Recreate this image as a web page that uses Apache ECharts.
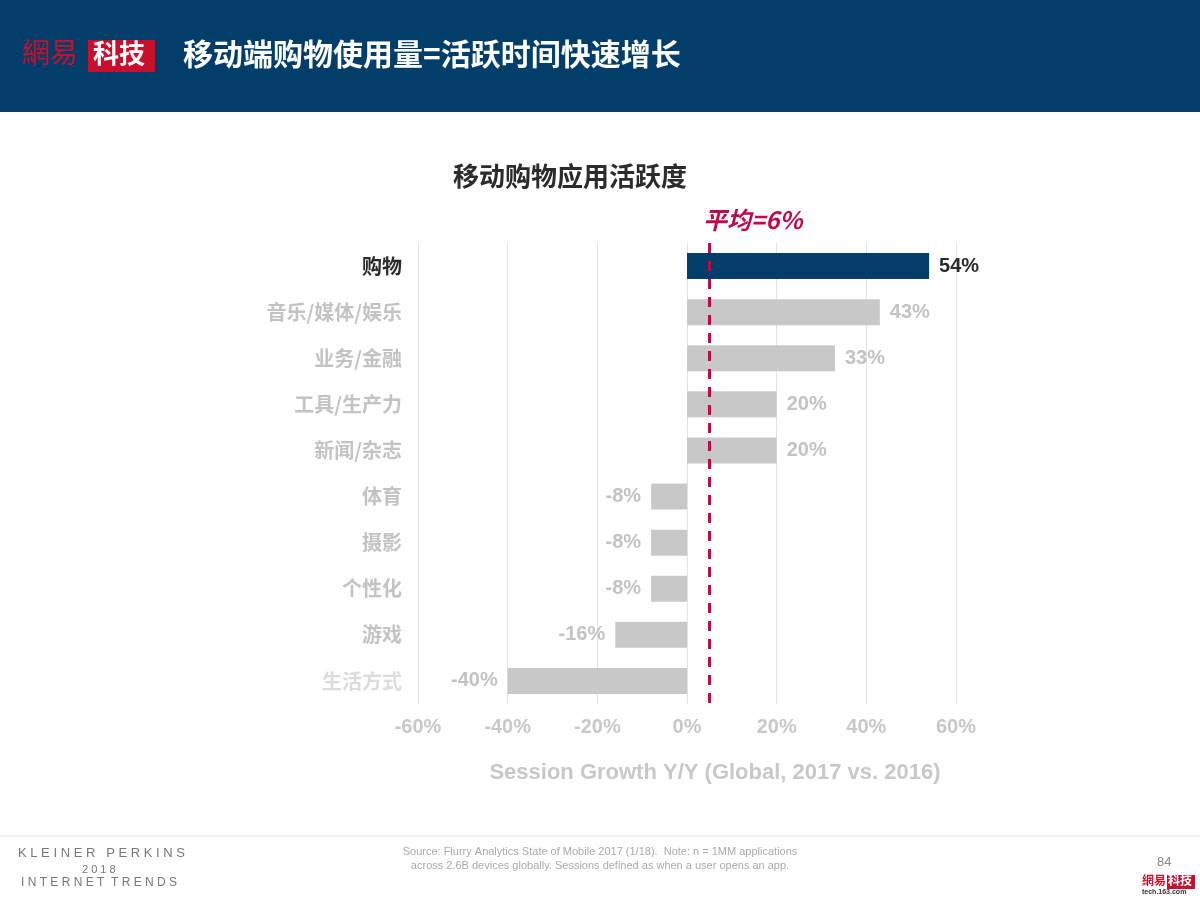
<!DOCTYPE html>
<html><head><meta charset="utf-8">
<script src="https://cdn.jsdelivr.net/npm/echarts@6/dist/echarts.min.js"></script>
<style>html,body{margin:0;padding:0;background:#fff}#c{width:1200px;height:900px}</style>
</head><body><div id="c"></div>
<script>
const categories = ['购物','音乐/媒体/娱乐','业务/金融','工具/生产力','新闻/杂志','体育','摄影','个性化','游戏','生活方式'];
const values = [54, 43, 33, 20, 20, -8, -8, -8, -16, -40];
const averageLine = 5;
const averageLabel = '平均=6%';
const xTicks = [-60, -40, -20, 0, 20, 40, 60];

const FONT = '"Liberation Sans","Noto Sans CJK SC",Arial,sans-serif';
const CJK = '"Noto Sans CJK SC","Liberation Sans",sans-serif';
const navy = '#023e69';
const grey = '#c8c8c8';

const chart = echarts.init(document.getElementById('c'));
chart.setOption({
  animation: false,
  backgroundColor: '#fff',
  graphic: [
    {type:'rect', shape:{x:0,y:0,width:1200,height:112}, style:{fill:'#023e69'}},
    {type:'text', left:22, top:38, style:{text:'網易', font:'28px "Noto Sans CJK TC",serif', fill:'#c8102e'}},
    {type:'rect', shape:{x:88,y:40,width:67,height:32}, style:{fill:'#c8102e'}},
    {type:'text', left:93, top:40, style:{text:'科技', font:'bold 26px "Noto Sans CJK SC",serif', fill:'#fff'}},
    {type:'text', left:183, top:39, style:{text:'移动端购物使用量=活跃时间快速增长', font:'bold 30px '+CJK, fill:'#fff'}},
    {type:'text', left:453, top:163, style:{text:'移动购物应用活跃度', font:'bold 26px '+CJK, fill:'#2b2b2b'}},
    {type:'text', left:703, top:208, style:{text:averageLabel, font:'italic bold 24px '+CJK, fill:'#c0084a'}},
    {type:'line', shape:{x1:0,y1:836,x2:1200,y2:836}, style:{stroke:'#e6e6e6', lineWidth:1}},
    {type:'text', left:18, top:847, style:{text:'K L E I N E R   P E R K I N S', font:'13px '+FONT, fill:'#777'}},
    {type:'text', left:82, top:864, style:{text:'2 0 1 8', font:'11px '+FONT, fill:'#777'}},
    {type:'text', left:21, top:877, style:{text:'I N T E R N E T  T R E N D S', font:'12px '+FONT, fill:'#777'}},
    {type:'text', x:600, y:845, style:{text:'Source: Flurry Analytics State of Mobile 2017 (1/18).  Note: n = 1MM applications\nacross 2.6B devices globally. Sessions defined as when a user opens an app.', font:'11px '+FONT, fill:'#aaa', align:'center', verticalAlign:'top', lineHeight:14}},
    {type:'text', left:1157, top:856, style:{text:'84', font:'13px '+FONT, fill:'#888'}},
    {type:'text', left:1142, top:874, style:{text:'網易', font:'bold 12px "Noto Sans CJK TC",serif', fill:'#c8102e'}},
    {type:'rect', shape:{x:1167,y:875,width:28,height:14}, style:{fill:'#c8102e'}},
    {type:'text', left:1168, top:874, style:{text:'科技', font:'bold 12px "Noto Sans CJK SC",serif', fill:'#fff'}},
    {type:'text', left:1142, top:889, style:{text:'tech.163.com', font:'bold 7px '+FONT, fill:'#333'}}
  ],
  grid: {left:418, right:244, top:243, bottom:196, containLabel:false},
  xAxis: {
    type:'value', min:-60, max:60, interval:20,
    axisLine:{show:false}, axisTick:{show:false},
    splitLine:{show:true, lineStyle:{color:'#e2e2e2', width:1}},
    axisLabel:{margin:13, formatter: v => xTicks.includes(v) ? v+'%' : '', color:grey, fontSize:20, fontWeight:'bold', fontFamily:FONT},
    name:'Session Growth Y/Y (Global, 2017 vs. 2016)', nameLocation:'middle', nameGap:58,
    nameTextStyle:{color:grey, fontSize:22, fontWeight:'bold', fontFamily:FONT, padding:[0,0,0,56]}
  },
  yAxis: {
    type:'category', data:categories, inverse:true,
    axisLine:{show:false}, axisTick:{show:false},
    axisLabel:{margin:16, fontSize:20, fontWeight:'bold', fontFamily:CJK,
      color:(v, i) => v==='购物' ? '#2b2b2b' : (v==='生活方式' ? '#dcdcdc' : '#c3c3c3')}
  },
  series: [{
    type:'bar', barWidth:26,
    data: values.map((v,i)=>({value:v, itemStyle:{color: i===0 ? navy : grey},
      label:{show:true, position: v>=0 ? 'right' : 'left', distance:10,
        formatter:'{c}%', fontSize:20, fontWeight:'bold', fontFamily:FONT,
        color: i===0 ? '#2b2b2b' : '#c3c3c3'}})),
    markLine: {
      silent:true, symbol:'none',
      lineStyle:{color:'#c0084a', type:[10,8], width:3},
      label:{show:false},
      data:[{xAxis:averageLine}]
    }
  }]
});
</script></body></html>
